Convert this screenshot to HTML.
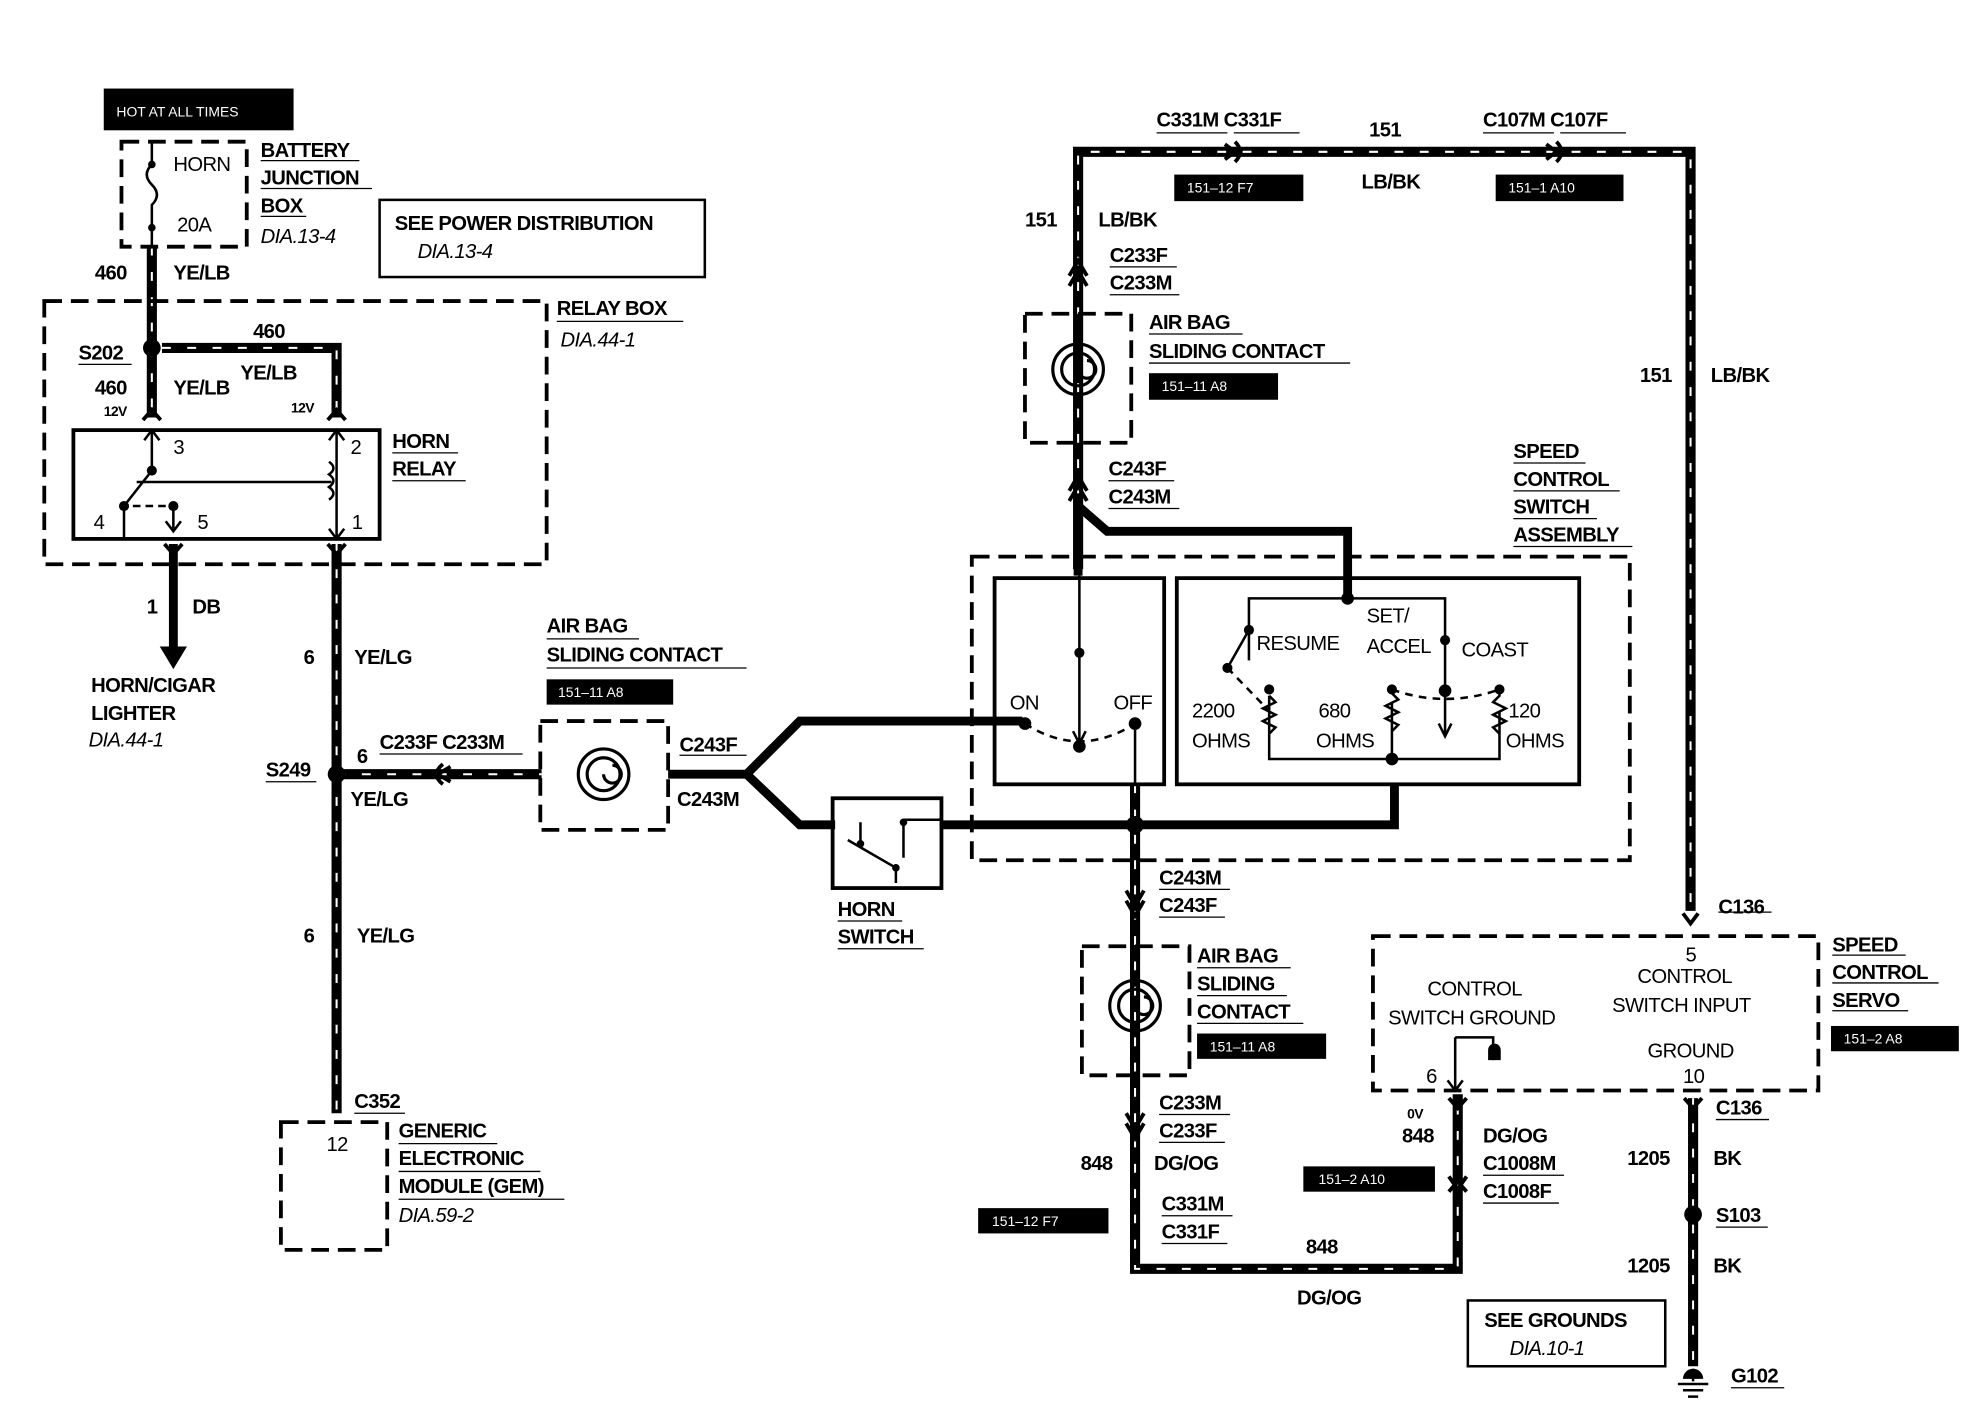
<!DOCTYPE html>
<html><head><meta charset="utf-8"><style>
html,body{margin:0;padding:0;background:#fff}
svg{display:block}
text{font-family:"Liberation Sans",sans-serif;font-weight:bold;font-size:16px;letter-spacing:-0.5px;fill:#000}
.n{font-weight:normal}
.i{font-weight:normal;font-style:italic}
.w{fill:#fff;font-weight:normal;font-size:11px;letter-spacing:0}
</style></head><body>
<svg width="1974" height="1408" viewBox="0 0 1560 1113" preserveAspectRatio="none" xmlns="http://www.w3.org/2000/svg">
<defs>
<g id="wires" fill="none">
<path d="M120 195 V330"/>
<path d="M128 275 H266 V330"/>
<path d="M266 430 V880"/>
<path d="M266 612 H428"/>
<path d="M852 450 V120 H1336 V720"/>
<path d="M897 620 V1003 H1152 V865"/>
<path d="M1338 868 V1080"/>
</g>
</defs>
<use href="#wires" stroke="#000" stroke-width="8"/>
<use href="#wires" stroke="#fff" stroke-width="1.6" stroke-dasharray="7 13"/>
<g fill="none" stroke="#000">
<!-- thick solid wires -->
<path d="M137 430 V515" stroke-width="7"/>
<path d="M128 512 L137 527 L146 512Z" fill="#000" stroke-width="2"/>
<path d="M852 395 V455 M852 400 L875 420 H1065 V470" stroke-width="7"/>
<path d="M528 612 H590 L632 570 H808 M590 612 L632 652 H660 M744 652 H1102 V620" stroke-width="7"/>
<!-- dashed boxes -->
<g stroke-width="3" stroke-dasharray="14 7">
<rect x="96" y="112" width="99" height="83"/>
<rect x="35" y="238" width="397" height="208"/>
<rect x="222" y="887" width="84" height="101"/>
<rect x="427" y="570" width="101" height="86"/>
<rect x="810" y="248" width="84" height="102"/>
<rect x="768" y="440" width="520" height="240"/>
<rect x="855" y="748" width="85" height="102"/>
<rect x="1085" y="740" width="352" height="122"/>
</g>
<rect x="300" y="158" width="257" height="61" stroke-width="2"/>
<rect x="1160" y="1028" width="156" height="52" stroke-width="2"/>
<!-- relay -->
<rect x="58" y="340" width="242" height="86" stroke-width="3"/>
<path d="M120 340 V372 L98 400 V426 M98 400 M266 340 V426 M137 400 V418 M260 365 q7 5 0 10 q7 5 0 10 q7 5 0 10 M108 381 H262" stroke-width="2"/>
<path d="M105 400 H133" stroke-width="2" stroke-dasharray="6 4"/>
<path d="M114 348 L120 340 L126 348 M260 348 L266 340 L272 348 M131 412 L137 420 L143 412 M260 418 L266 426 L272 418" stroke-width="2"/>
<!-- fuse -->
<path d="M120 112 V130 q-8 8 0 16 q8 8 0 16 V195" stroke-width="2"/>
<!-- spirals -->
<g stroke-width="2.5">
<circle cx="477" cy="612" r="20"/><circle cx="477" cy="612" r="13"/><path d="M477 612 a7 7 0 1 0 7 -7"/>
<circle cx="852" cy="292" r="20"/><circle cx="852" cy="292" r="13"/><path d="M852 292 a7 7 0 1 0 7 -7 M852 248 V292"/>
<circle cx="897" cy="795" r="20"/><circle cx="897" cy="795" r="13"/><path d="M897 795 a7 7 0 1 0 7 -7"/>
</g>
<!-- speed control switch inner -->
<rect x="786" y="457" width="134" height="163" stroke-width="3"/>
<rect x="930" y="457" width="318" height="163" stroke-width="3"/>
<path d="M853 455 V586 M848 578 L853 588 L858 578 M897 572 V620" stroke-width="2"/>
<path d="M810 572 Q853 600 897 572" stroke-width="2" stroke-dasharray="6 5"/>
<path d="M987 522 V473 H1142 V582 M1137 572 L1142 582 L1147 572 M987 498 L970 528 M1003 562 V600 H1185 V562 M1100 555 V600" stroke-width="2"/>
<path d="M970 528 L1003 562 M1100 545 Q1142 560 1185 545" stroke-width="2" stroke-dasharray="6 5"/>
<path d="M1003 562 V550 M1003 550 l5 5 l-10 5 l10 5 l-10 5 l10 5 l-5 5 M1100 545 V548 l5 5 l-10 5 l10 5 l-10 5 l10 5 l-5 5 M1185 545 V550 l-5 5 l10 5 l-10 5 l10 5 l-10 5 l5 5" stroke-width="2"/>
<!-- horn switch -->
<rect x="658" y="631" width="86" height="71" stroke-width="3"/>
<path d="M670 664 L708 686 M708 686 V698 M680 667 V650 M714 648 V678 M714 648 H744" stroke-width="2"/>
<!-- servo ground -->
<path d="M1150 820 H1180 V838 M1150 820 V862 M1144 854 L1150 862 L1156 854" stroke-width="2"/>
<path d="M1338 1082 V1092 M1326 1094 H1350 M1330 1099 H1346 M1334 1104 H1342" stroke-width="2"/>
<!-- connectors -->
<path d="M845 218 L852 206 L859 218 M845 226 L852 214 L859 226" stroke-width="3"/>
<path d="M845 388 L852 376 L859 388 M845 396 L852 384 L859 396" stroke-width="3"/>
<path d="M968 114 L976 120 L968 126 M976 112 Q984 120 976 128" stroke-width="3"/>
<path d="M1222 114 L1230 120 L1222 126 M1230 112 Q1238 120 1230 128" stroke-width="3"/>
<path d="M356 606 L346 612 L356 618 M350 604 Q340 612 350 620" stroke-width="3"/>
<path d="M890 704 L897 716 L904 704 M890 712 L897 724 L904 712" stroke-width="3"/>
<path d="M890 880 L897 892 L904 880 M890 888 L897 900 L904 888" stroke-width="3"/>
<path d="M1145 930 L1152 940 L1159 930 M1145 942 L1152 934 L1159 942" stroke-width="3"/>
<path d="M1330 722 L1336 730 L1342 722" stroke-width="3"/>
<path d="M1145 868 L1152 876 L1159 868 M1331 868 L1338 876 L1345 868" stroke-width="3"/>
<path d="M113 332 L120 324 L127 332 M259 332 L266 324 L273 332 M130 430 L137 438 L144 430 M259 430 L266 438 L273 430" stroke-width="3"/>
<!-- underlines -->
<g stroke-width="1">
<path d="M206 127 H284 M206 149 H294 M206 171 H242 M440 254 H540 M310 358 H362 M310 380 H368 M62 288 H104 M210 618 H250 M300 596 H413 M432 505 H505 M432 528 H590 M537 597 H590 M280 880 H320 M315 904 H393 M315 926 H427 M315 948 H446"/>
<path d="M914 105 H970 M975 105 H1027 M1172 105 H1228 M1233 105 H1285 M877 211 H930 M877 233 H932 M908 264 H982 M908 287 H1067 M876 380 H928 M876 402 H932 M1196 366 H1253 M1196 388 H1280 M1196 410 H1262 M1196 432 H1290"/>
<path d="M662 728 H713 M662 750 H730 M916 703 H972 M916 725 H968 M946 765 H1020 M946 787 H1017 M946 809 H1030 M916 881 H972 M916 903 H968 M918 961 H974 M918 983 H970 M1172 929 H1236 M1172 951 H1232 M1358 721 H1400 M1448 755 H1506 M1448 777 H1532 M1448 799 H1508 M1356 885 H1398 M1356 970 H1397 M1368 1097 H1410"/>
</g>
</g>
<!-- dots -->
<g fill="#000">
<circle cx="120" cy="275" r="7"/><circle cx="266" cy="612" r="7"/><circle cx="897" cy="652" r="7"/><circle cx="1338" cy="960" r="7"/>
<circle cx="120" cy="130" r="3"/><circle cx="120" cy="180" r="3"/><circle cx="120" cy="372" r="4"/><circle cx="98" cy="400" r="4"/><circle cx="137" cy="400" r="4"/>
<circle cx="853" cy="516" r="4"/><circle cx="810" cy="572" r="5"/><circle cx="897" cy="572" r="5"/><circle cx="853" cy="590" r="5"/>
<circle cx="1065" cy="473" r="5"/><circle cx="987" cy="498" r="4"/><circle cx="970" cy="528" r="4"/><circle cx="1003" cy="545" r="4"/><circle cx="1100" cy="545" r="4"/><circle cx="1142" cy="506" r="4"/><circle cx="1142" cy="546" r="5"/><circle cx="1185" cy="545" r="4"/><circle cx="1100" cy="600" r="5"/>
<circle cx="680" cy="667" r="3"/><circle cx="708" cy="686" r="3"/><circle cx="714" cy="650" r="3"/>
<path d="M1176 838 h10 v-8 a5 5 0 0 0 -10 0Z"/><path d="M1330 1090 a8 8 0 0 1 16 0Z"/>
<rect x="82" y="70" width="150" height="33"/>
<rect x="928" y="138" width="102" height="21"/><rect x="1182" y="138" width="101" height="21"/>
<rect x="908" y="295" width="102" height="21"/><rect x="432" y="537" width="100" height="20"/>
<rect x="946" y="817" width="102" height="20"/><rect x="773" y="955" width="103" height="20"/>
<rect x="1030" y="922" width="104" height="20"/><rect x="1447" y="811" width="101" height="20"/>
</g>
<!-- white box labels -->
<text class="w" x="92" y="92">HOT AT ALL TIMES</text>
<text class="w" x="938" y="152">151–12 F7</text><text class="w" x="1192" y="152">151–1 A10</text>
<text class="w" x="918" y="309">151–11 A8</text><text class="w" x="441" y="551">151–11 A8</text>
<text class="w" x="956" y="831">151–11 A8</text><text class="w" x="784" y="969">151–12 F7</text>
<text class="w" x="1042" y="936">151–2 A10</text><text class="w" x="1457" y="825">151–2 A8</text>
<!-- labels -->
<text class="n" x="137" y="135">HORN</text><text class="n" x="140" y="183">20A</text>
<text x="206" y="124">BATTERY</text><text x="206" y="146">JUNCTION</text><text x="206" y="168">BOX</text><text class="i" x="206" y="192">DIA.13-4</text>
<text x="312" y="182">SEE POWER DISTRIBUTION</text><text class="i" x="330" y="204">DIA.13-4</text>
<text x="75" y="221">460</text><text x="137" y="221">YE/LB</text>
<text x="440" y="249">RELAY BOX</text><text class="i" x="443" y="274">DIA.44-1</text>
<text x="200" y="267">460</text><text x="62" y="284">S202</text>
<text x="75" y="312">460</text><text x="137" y="312">YE/LB</text><text x="190" y="300">YE/LB</text>
<text x="82" y="329" style="font-size:11px">12V</text><text x="230" y="326" style="font-size:11px">12V</text>
<text class="n" x="137" y="359">3</text><text class="n" x="277" y="359">2</text><text class="n" x="74" y="418">4</text><text class="n" x="156" y="418">5</text><text class="n" x="278" y="418">1</text>
<text x="310" y="354">HORN</text><text x="310" y="376">RELAY</text>
<text x="116" y="485">1</text><text x="152" y="485">DB</text>
<text x="72" y="547">HORN/CIGAR</text><text x="72" y="569">LIGHTER</text><text class="i" x="70" y="590">DIA.44-1</text>
<text x="240" y="525">6</text><text x="280" y="525">YE/LG</text>
<text x="210" y="614">S249</text><text x="282" y="603">6</text><text x="300" y="592">C233F C233M</text><text x="277" y="637">YE/LG</text>
<text x="240" y="745">6</text><text x="282" y="745">YE/LG</text>
<text x="280" y="876">C352</text><text class="n" x="258" y="910">12</text>
<text x="315" y="899">GENERIC</text><text x="315" y="921">ELECTRONIC</text><text x="315" y="943">MODULE (GEM)</text><text class="i" x="315" y="966">DIA.59-2</text>
<text x="432" y="500">AIR BAG</text><text x="432" y="523">SLIDING CONTACT</text>
<text x="537" y="594">C243F</text><text x="535" y="637">C243M</text>
<text x="914" y="100">C331M C331F</text><text x="1082" y="108">151</text><text x="1172" y="100">C107M C107F</text><text x="1076" y="149">LB/BK</text>
<text x="810" y="179">151</text><text x="868" y="179">LB/BK</text><text x="877" y="207">C233F</text><text x="877" y="229">C233M</text>
<text x="908" y="260">AIR BAG</text><text x="908" y="283">SLIDING CONTACT</text>
<text x="876" y="376">C243F</text><text x="876" y="398">C243M</text>
<text x="1296" y="302">151</text><text x="1352" y="302">LB/BK</text>
<text x="1196" y="362">SPEED</text><text x="1196" y="384">CONTROL</text><text x="1196" y="406">SWITCH</text><text x="1196" y="428">ASSEMBLY</text>
<text class="n" x="798" y="561">ON</text><text class="n" x="880" y="561">OFF</text>
<text class="n" x="993" y="514">RESUME</text><text class="n" x="1080" y="492">SET/</text><text class="n" x="1080" y="516">ACCEL</text><text class="n" x="1155" y="519">COAST</text>
<text class="n" x="942" y="567">2200</text><text class="n" x="942" y="591">OHMS</text><text class="n" x="1042" y="567">680</text><text class="n" x="1040" y="591">OHMS</text><text class="n" x="1192" y="567">120</text><text class="n" x="1190" y="591">OHMS</text>
<text x="662" y="724">HORN</text><text x="662" y="746">SWITCH</text>
<text x="916" y="699">C243M</text><text x="916" y="721">C243F</text>
<text x="946" y="761">AIR BAG</text><text x="946" y="783">SLIDING</text><text x="946" y="805">CONTACT</text>
<text x="916" y="877">C233M</text><text x="916" y="899">C233F</text>
<text x="854" y="925">848</text><text x="912" y="925">DG/OG</text>
<text x="918" y="957">C331M</text><text x="918" y="979">C331F</text>
<text x="1032" y="991">848</text><text x="1025" y="1031">DG/OG</text>
<text x="1358" y="722">C136</text>
<text x="1448" y="752">SPEED</text><text x="1448" y="774">CONTROL</text><text x="1448" y="796">SERVO</text>
<text class="n" x="1128" y="787">CONTROL</text><text class="n" x="1097" y="810">SWITCH GROUND</text>
<text class="n" x="1332" y="760">5</text><text class="n" x="1294" y="777">CONTROL</text><text class="n" x="1274" y="800">SWITCH INPUT</text>
<text class="n" x="1302" y="836">GROUND</text><text class="n" x="1330" y="856">10</text><text class="n" x="1127" y="856">6</text>
<text x="1112" y="884" style="font-size:11px">0V</text><text x="1108" y="903">848</text><text x="1172" y="903">DG/OG</text>
<text x="1172" y="925">C1008M</text><text x="1172" y="947">C1008F</text>
<text x="1356" y="881">C136</text><text x="1286" y="921">1205</text><text x="1354" y="921">BK</text>
<text x="1356" y="966">S103</text><text x="1286" y="1006">1205</text><text x="1354" y="1006">BK</text>
<text x="1173" y="1049">SEE GROUNDS</text><text class="i" x="1193" y="1071">DIA.10-1</text>
<text x="1368" y="1093">G102</text>
</svg>
</body></html>
